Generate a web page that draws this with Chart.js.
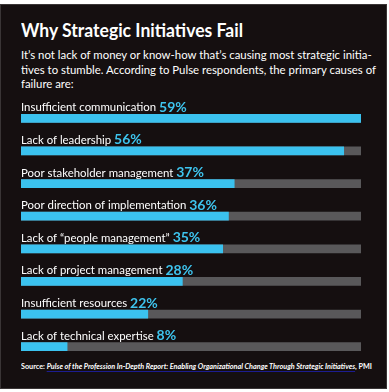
<!DOCTYPE html>
<html>
<head>
<meta charset="utf-8">
<script src="https://cdn.jsdelivr.net/npm/chart.js@4"></script>
<style>
  html, body { margin: 0; padding: 0; background: #fff; }
  body { width: 389px; height: 392px; position: relative; overflow: hidden; font-family: Lato, "Noto Sans", sans-serif; }
  #panel { position: absolute; left: 0; top: 4px; width: 385px; height: 383px; background: #150f10; border: 1px solid #3a3536; }
  .fit { position: absolute; left: 21px; color: #fff; white-space: nowrap; transform-origin: 0 0; }
  #title { top: 19px; font-weight: bold; font-size: 18.5px; line-height: 22px; }
  #intro { top: 48px; font-size: 11.8px; line-height: 14.6px; }
  #source { top: 361px; font-size: 8.2px; line-height: 10px; font-weight: bold; }
  #source i { text-decoration: underline; text-decoration-color: #1c1c90; text-underline-offset: 2px; }
  #wrap { position: absolute; left: 0; top: 0; width: 389px; height: 392px; }
</style>
</head>
<body>
<div id="panel"></div>
<div id="title" class="fit" data-w="222">Why Strategic Initiatives Fail</div>
<div id="intro" class="fit" data-w="355">It’s not lack of money or know-how that’s causing most strategic initia-<br>tives to stumble. According to Pulse respondents, the primary causes of<br>failure are:</div>
<div id="source" class="fit" data-w="351">Source: <i>Pulse of the Profession In-Depth Report: Enabling Organizational Change Through Strategic Initiatives</i>, PMI</div>
<div id="wrap"><canvas id="chart"></canvas></div>
<script>
var causes = [
  'Insufficient communication',
  'Lack of leadership',
  'Poor stakeholder management',
  'Poor direction of implementation',
  'Lack of \u201cpeople management\u201d',
  'Lack of project management',
  'Insufficient resources',
  'Lack of technical expertise'
];
var percents = [59, 56, 37, 36, 35, 28, 22, 8];
var scaleMax = 59;
var track = causes.map(function () { return scaleMax; });

// squeeze the header/footer text to the narrow width of the original type
document.querySelectorAll('.fit').forEach(function (el) {
  var w = el.getBoundingClientRect().width;
  el.style.transform = 'scaleX(' + (el.dataset.w / w) + ')';
});

var labelPlugin = {
  id: 'causeLabels',
  afterDatasetsDraw: function (chart) {
    var ctx = chart.ctx;
    var yScale = chart.scales.y;
    var left = chart.chartArea.left;
    ctx.save();
    ctx.textBaseline = 'alphabetic';
    ctx.textAlign = 'left';
    for (var i = 0; i < causes.length; i++) {
      var y = yScale.getPixelForValue(i) - 7;
      ctx.font = '11.4px Lato, "Noto Sans", sans-serif';
      ctx.fillStyle = '#ffffff';
      ctx.fillText(causes[i], left, y);
      var w = ctx.measureText(causes[i] + ' ').width;
      ctx.font = 'bold 14px Lato, "Noto Sans", sans-serif';
      ctx.fillStyle = '#3ec4ee';
      ctx.fillText(percents[i] + '%', left + w, y + 0.5);
    }
    ctx.restore();
  }
};

var ctx = document.getElementById('chart');
var myChart = new Chart(ctx, {
  type: 'bar',
  data: {
    labels: causes,
    datasets: [{
      label: 'Percent',
      data: percents,
      backgroundColor: '#3bc2ef',
      barThickness: 8,
      grouped: false,
      order: 1
    }, {
      label: 'Track',
      data: track,
      backgroundColor: '#59585a',
      barThickness: 8,
      grouped: false,
      order: 2
    }]
  },
  options: {
    indexAxis: 'y',
    responsive: true,
    maintainAspectRatio: false,
    animation: false,
    layout: { padding: { left: 21, right: 28, top: 102, bottom: 29 } },
    plugins: {
      legend: { display: false },
      tooltip: { enabled: false }
    },
    scales: {
      x: { display: false, min: 0, max: scaleMax },
      y: { display: false }
    }
  },
  plugins: [labelPlugin]
});
</script>
</body>
</html>
